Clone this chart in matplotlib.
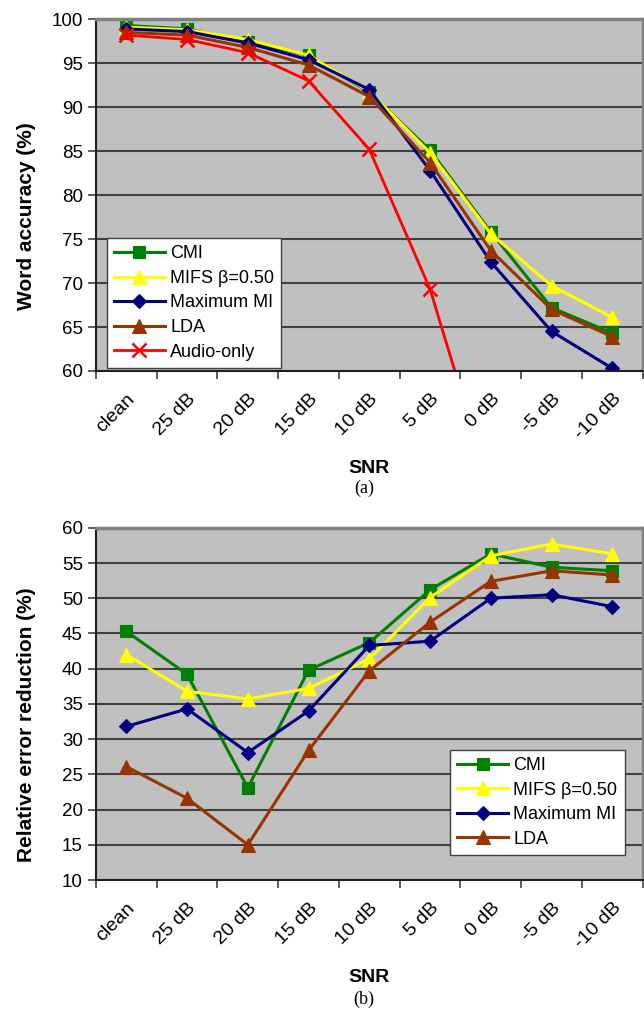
import numpy as np
import matplotlib.pyplot as plt

plt.rcParams['font.family'] = ['Liberation Sans', 'DejaVu Sans']

snr = ['clean', '25 dB', '20 dB', '15 dB', '10 dB', '5 dB', '0 dB', '-5 dB', '-10 dB']

# (a) word accuracy (%)
acc_cmi = [99.3, 98.9, 97.4, 95.9, 91.7, 85.1, 75.8, 67.2, 64.3]
acc_mifs = [99.1, 98.8, 97.7, 95.9, 91.8, 84.8, 75.6, 69.7, 66.1]
acc_maxmi = [98.9, 98.6, 97.3, 95.4, 92.0, 82.8, 72.4, 64.5, 60.3]
acc_lda = [98.5, 98.2, 96.8, 94.8, 91.2, 83.7, 73.7, 67.0, 63.9]
acc_audio = [98.2, 97.7, 96.2, 93.0, 85.2, 69.3, 46.5, np.nan, np.nan]

# (b) relative error reduction (%)
red_cmi = [45.3, 39.2, 23.1, 39.8, 43.7, 51.2, 56.3, 54.4, 53.9]
red_mifs = [42.0, 36.8, 35.7, 37.2, 41.4, 50.1, 56.0, 57.7, 56.3]
red_maxmi = [31.8, 34.3, 28.1, 34.0, 43.3, 43.9, 50.0, 50.5, 48.8]
red_lda = [26.1, 21.6, 15.0, 28.4, 39.7, 46.6, 52.4, 53.9, 53.3]

styles = {
    'CMI': dict(color='#008000', marker='s', ms=9),
    'MIFS β=0.50': dict(color='#FFFF00', marker='^', ms=10),
    'Maximum MI': dict(color='#000080', marker='D', ms=7),
    'LDA': dict(color='#993300', marker='^', ms=10),
    'Audio-only': dict(color='#FF0000', marker='x', ms=10, mew=1.8),
}


def style(ax, ylim, ystep, ylabel):
    ax.set_facecolor('#C0C0C0')
    ax.set_xlim(-0.5, len(snr) - 0.5)
    ax.set_ylim(*ylim)
    ax.set_yticks(np.arange(ylim[0], ylim[1] + 0.1, ystep))
    ax.set_xticks(np.arange(len(snr)))
    ax.set_xticklabels(snr, rotation=45, ha='right', rotation_mode='anchor', fontsize=14)
    ax.set_xticks(np.arange(-0.5, len(snr), 1), minor=True)
    ax.tick_params(axis='x', which='major', length=0, pad=14)
    ax.tick_params(axis='x', which='minor', length=6, width=1.2, color='#404040')
    ax.tick_params(axis='y', labelsize=13.5, length=6, width=1.2, color='#404040')
    ax.yaxis.grid(True, color='#404040', linewidth=1.5)
    ax.set_axisbelow(True)
    for s in ['left', 'bottom']:
        ax.spines[s].set_color('#202020')
        ax.spines[s].set_linewidth(1.5)
    for s in ['top', 'right']:
        ax.spines[s].set_color('#808080')
        ax.spines[s].set_linewidth(2.5)
    ax.set_xlabel('SNR', fontsize=14, fontweight='bold', labelpad=12)
    ax.set_ylabel(ylabel, fontsize=15, fontweight='bold')
    ax.yaxis.set_label_coords(-0.11, 0.44)


def draw(ax, series):
    x = np.arange(len(snr))
    for name, y in series:
        st = styles[name]
        lw = 2.0 if name == 'Audio-only' else 2.2
        ax.plot(x, y, color=st['color'], marker=st['marker'], markersize=st['ms'],
                markeredgewidth=st.get('mew', 0.8), markeredgecolor=st['color'],
                linewidth=lw, label=name)


def legend(ax, loc, anchor):
    leg = ax.legend(loc=loc, bbox_to_anchor=anchor, fontsize=13, handlelength=2.8,
                    frameon=True, fancybox=False, framealpha=1, borderpad=0.4,
                    labelspacing=0.42, handletextpad=0.3, borderaxespad=0)
    leg.get_frame().set_edgecolor('#404040')
    leg.get_frame().set_linewidth(1.0)
    leg.get_frame().set_facecolor('white')


fig = plt.figure(figsize=(6.44, 10.15), dpi=100)
ax1 = fig.add_axes([0.149, 0.6345, 0.849, 0.3465])
ax2 = fig.add_axes([0.149, 0.133, 0.849, 0.347])

draw(ax1, [('CMI', acc_cmi), ('MIFS β=0.50', acc_mifs), ('Maximum MI', acc_maxmi),
           ('LDA', acc_lda), ('Audio-only', acc_audio)])
style(ax1, (60, 100), 5, 'Word accuracy (%)')
legend(ax1, 'lower left', (0.02, 0.009))

draw(ax2, [('CMI', red_cmi), ('MIFS β=0.50', red_mifs), ('Maximum MI', red_maxmi),
           ('LDA', red_lda)])
style(ax2, (10, 60), 5, 'Relative error reduction (%)')
legend(ax2, 'lower right', (0.967, 0.071))

fig.text(0.565, 0.519, '(a)', ha='center', va='center', fontsize=13, family='Liberation Serif')
fig.text(0.565, 0.015, '(b)', ha='center', va='center', fontsize=13, family='Liberation Serif')

fig.savefig('out.png', dpi=100, facecolor='white')
